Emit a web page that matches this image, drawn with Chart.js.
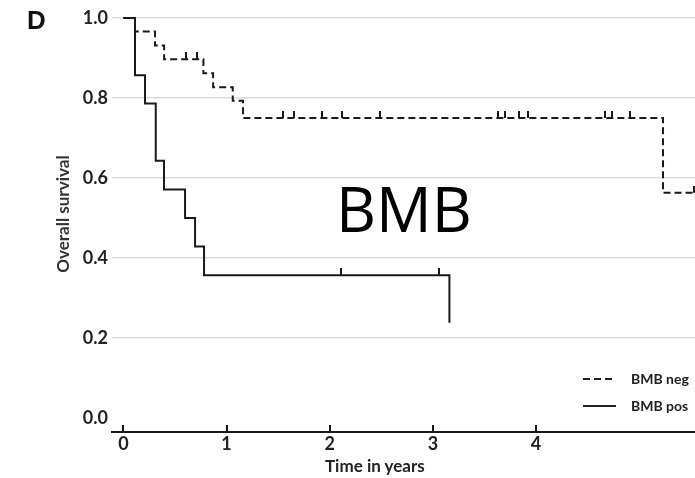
<!DOCTYPE html>
<html>
<head>
<meta charset="utf-8">
<script src="https://cdn.jsdelivr.net/npm/chart.js@4.4.0/dist/chart.umd.min.js"></script>
<style>
    html, body { margin: 0; padding: 0; background: #fff; }
    #wrap { position: relative; width: 695px; height: 478px; overflow: hidden; }
    #kmChart { position: absolute; left: 0; top: 0; }
    .panel { position: absolute; left: 27px; top: 7px; font: bold 26px "Liberation Sans", Arial, sans-serif; color: #111; line-height: 1; }
    .big { position: absolute; left: 336px; top: 177px; font: 62px "Open Sans", sans-serif; color: #000; line-height: 1; }
    .xtitle { position: absolute; left: 325px; top: 456px; font: bold 17px Lato, sans-serif; color: #222; line-height: 20px; white-space: nowrap; }
    .ytitle { position: absolute; left: 63px; top: 214px; font: bold 17px Lato, sans-serif; color: #333; line-height: 20px; white-space: nowrap;
              transform: translate(-50%, -50%) rotate(-90deg); }
    .legend { position: absolute; left: 583px; top: 365px; font: bold 14px Lato, sans-serif; color: #222; }
    .legend .row { height: 27px; display: flex; align-items: center; }
    .legend .sample { display: inline-block; width: 33px; height: 2px; margin-right: 15px; }
    .legend .solid { background: #222; }
    .legend .dashed { background: repeating-linear-gradient(90deg, #222 0 7px, transparent 7px 11px); }
</style>
</head>
<body>
<div id="wrap">
    <canvas id="kmChart" width="695" height="478"></canvas>
    <div class="panel">D</div>
    <div class="big">BMB</div>
    <div class="xtitle">Time in years</div>
    <div class="ytitle">Overall survival</div>
    <div class="legend">
        <div class="row"><span class="sample dashed"></span><span>BMB neg</span></div>
        <div class="row"><span class="sample solid"></span><span>BMB pos</span></div>
    </div>
</div>
<script>
// step times (years) and survival after each step
const negTimes = [0, 0.113, 0.307, 0.395, 0.776, 0.87, 1.06, 1.16, 5.23];
const negSurv = [1, 0.966, 0.931, 0.897, 0.862, 0.827, 0.793, 0.75, 0.563];
const negCensored = [0.61, 0.71, 1.55, 1.65, 1.93, 2.12, 2.49, 3.63, 3.70, 3.83, 3.92, 4.67, 4.74, 4.91, 5.53];

const posTimes = [0, 0.113, 0.21, 0.314, 0.394, 0.598, 0.695, 0.782, 3.16];
const posSurv = [1, 0.857, 0.786, 0.643, 0.571, 0.5, 0.429, 0.357, 0.238];
const posCensored = [2.11, 3.06];

const xTickLabels = [0, 1, 2, 3, 4];
const yTickLabels = [0, 0.2, 0.4, 0.6, 0.8, 1.0];

const ink = "#1a1a1a";

// survival level at time t (last step at or before t)
function levelAt(times, surv, t) {
    let s = surv[0];
    times.forEach((tt, i) => { if (tt <= t) s = surv[i]; });
    return s;
}

function stepPoints(times, surv, censored) {
    const pts = times.map((t, i) => ({ x: t, y: surv[i] }));
    const lastC = censored[censored.length - 1];
    if (lastC > times[times.length - 1]) {
        pts.push({ x: lastC, y: levelAt(times, surv, lastC) });
    }
    return pts;
}

function censorPoints(times, surv, censored) {
    return censored.map(t => ({ x: t, y: levelAt(times, surv, t) }));
}

// small upward tick used as the censor mark
function censorMark(h) {
    const c = document.createElement("canvas");
    c.width = 2;
    c.height = h * 2;
    const g = c.getContext("2d");
    g.fillStyle = ink;
    g.fillRect(0, 0, 2, h);
    return c;
}
const mark = censorMark(7);

// tick marks on the x axis pointing up into the plot
const innerTicks = {
    id: "innerTicks",
    afterDraw(chart) {
        const xs = chart.scales.x;
        const c = chart.ctx;
        c.save();
        c.strokeStyle = ink;
        c.lineWidth = 2;
        c.beginPath();
        xs.ticks.forEach(t => {
            const px = Math.round(xs.getPixelForValue(t.value));
            c.moveTo(px, xs.top);
            c.lineTo(px, xs.top - 7);
        });
        c.stroke();
        c.restore();
    }
};

const ctx = document.getElementById("kmChart").getContext("2d");

new Chart(ctx, {
    type: "line",
    data: {
        datasets: [
            {
                label: "BMB neg",
                data: stepPoints(negTimes, negSurv, negCensored),
                stepped: true,
                borderColor: ink,
                borderWidth: 2,
                borderDash: [7, 4],
                pointRadius: 0,
                clip: false
            },
            {
                label: "BMB pos",
                data: stepPoints(posTimes, posSurv, posCensored),
                stepped: true,
                borderColor: ink,
                borderWidth: 2,
                pointRadius: 0,
                clip: false
            },
            {
                label: "neg censored",
                data: censorPoints(negTimes, negSurv, negCensored),
                showLine: false,
                pointStyle: mark,
                pointRadius: 7,
                clip: false
            },
            {
                label: "pos censored",
                data: censorPoints(posTimes, posSurv, posCensored),
                showLine: false,
                pointStyle: mark,
                pointRadius: 7,
                clip: false
            }
        ]
    },
    options: {
        responsive: false,
        animation: false,
        devicePixelRatio: 1,
        layout: { autoPadding: false, padding: { top: 18, right: 0, left: 0, bottom: 0 } },
        plugins: {
            legend: { display: false },
            tooltip: { enabled: false }
        },
        scales: {
            x: {
                type: "linear",
                min: -0.11,
                max: 5.54,
                afterFit: s => { s.height = 46; s.paddingLeft = 0; s.paddingRight = 0; },
                afterBuildTicks: s => {
                    s.ticks = xTickLabels.map(v => ({ value: v }));
                },
                ticks: {
                    stepSize: 1,
                    includeBounds: false,
                    padding: 1,
                    color: "#222",
                    font: { family: "Lato", size: 18, weight: "bold" }
                },
                grid: { display: false, drawTicks: false },
                border: { display: true, color: ink, width: 2 }
            },
            y: {
                type: "linear",
                min: -0.035,
                max: 1.0,
                afterFit: s => { s.width = 112; s.paddingTop = 0; s.paddingBottom = 0; },
                afterBuildTicks: s => {
                    s.ticks = yTickLabels.map(v => ({ value: v }));
                },
                ticks: {
                    stepSize: 0.2,
                    includeBounds: false,
                    padding: 4,
                    color: "#222",
                    font: { family: "Lato", size: 18, weight: "bold" },
                    callback: v => v.toFixed(1)
                },
                grid: {
                    drawTicks: false,
                    lineWidth: 1.5,
                    color: c => (c.tick && c.tick.value === 0 ? "rgba(0,0,0,0)" : "#dcdcdc")
                },
                border: { display: false }
            }
        }
    },
    plugins: [innerTicks]
});
</script>
</body>
</html>
